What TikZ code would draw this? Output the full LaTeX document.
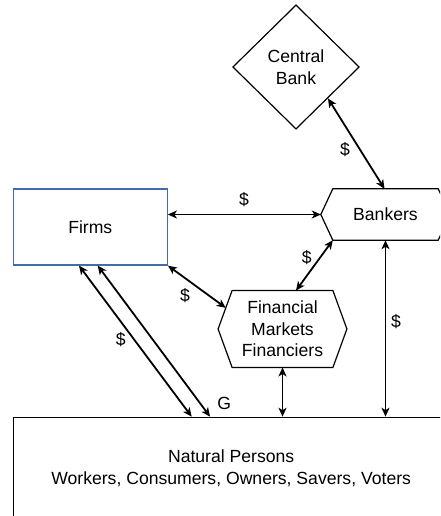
\documentclass[tikz,border=0pt]{standalone}
\usepackage{fontspec}
\setmainfont{Liberation Sans}
\usetikzlibrary{shapes.geometric,arrows.meta,calc}
\definecolor{firmblue}{RGB}{68,108,168}
\tikzset{
  txt/.style={font=\fontsize{17.6}{21.5}\selectfont, align=center},
  shapeline/.style={line width=1.2pt},
  flow/.style={line width=1.8pt, {Stealth[length=9pt,width=8pt,inset=2.5pt]}-{Stealth[length=9pt,width=8pt,inset=2.5pt]}},
  lbl/.style={txt, inner sep=0pt}
}
\begin{document}
\begin{tikzpicture}[x=1pt,y=-1pt]
\useasboundingbox (0,0) rectangle (440,516);
\clip (0,0) rectangle (440,516);
\fill[white] (0,0) rectangle (440,516);
% nodes
\node[txt, draw, shapeline, diamond, inner sep=0pt, minimum width=126.6pt, minimum height=124.3pt] (cb) at (296,67) {Central\\Bank};
\node[txt, minimum width=129pt, minimum height=51pt, inner sep=0pt] (bank) at (385.5,214.5) {Bankers};
\draw[shapeline] (bank.west) -- ([xshift=12pt]bank.north west) -- ([xshift=-12pt]bank.north east) -- (bank.east) -- ([xshift=-12pt]bank.south east) -- ([xshift=12pt]bank.south west) -- cycle;
\node[txt, draw=firmblue, shapeline, minimum width=154pt, minimum height=76pt, inner sep=0pt] (firms) at (90.3,227) {Firms};
\node[txt, minimum width=128.4pt, minimum height=76.5pt, inner sep=0pt] (fin) at (282.5,329) {Financial\\Markets\\Financiers};
\draw[shapeline] (fin.west) -- ([xshift=14pt]fin.north west) -- ([xshift=-14pt]fin.north east) -- (fin.east) -- ([xshift=-14pt]fin.south east) -- ([xshift=14pt]fin.south west) -- cycle;
\node[txt, draw, shapeline, minimum width=435.7pt, minimum height=101.4pt, inner sep=0pt] (nat) at (231.15,468) {Natural Persons\\Workers, Consumers, Owners, Savers, Voters};
% connectors
\draw[flow] (firms.east |- bank.west) -- (bank.west);
\draw[flow] (cb.south east) -- ([xshift=-1pt]bank.north);
\draw[flow] ([xshift=12pt]bank.south west) -- ([xshift=13.5pt]fin.north);
\coordinate (finedge) at ($(fin.west)!0.55!([xshift=14pt]fin.north west)$);
\draw[flow] (firms.south east) -- (finedge);
\draw[flow] (bank.south) -- (bank.south |- nat.north);
\draw[flow] (fin.south) -- (fin.south |- nat.north);
\draw[flow] ([xshift=-11.3pt]firms.south) -- ([xshift=179pt]nat.north west);
\draw[flow] ([xshift=7.4pt]firms.south) -- ([xshift=197.4pt]nat.north west);
% labels
\node[lbl] (l1) at (244,200) {\$};
\node[lbl] (l2) at (345,150) {\$};
\node[lbl] (l3) at (306.7,257.5) {\$};
\node[lbl] (l4) at (185,296) {\$};
\node[lbl] (l5) at (396,322) {\$};
\node[lbl] (l6) at (120.7,340) {\$};
\node[lbl] (lg) at (224.3,403) {G};
\end{tikzpicture}
\end{document}
